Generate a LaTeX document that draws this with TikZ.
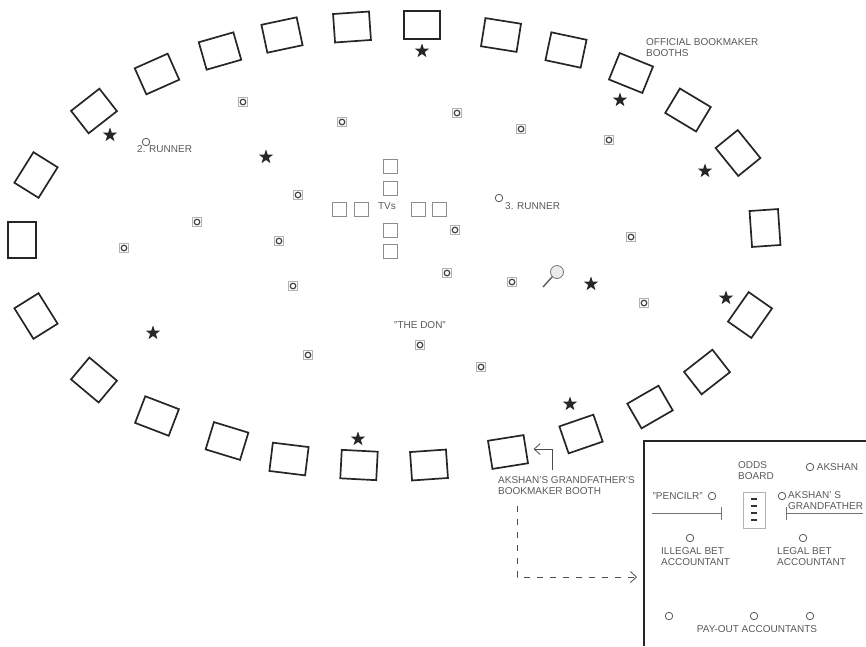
\documentclass[tikz,border=0pt]{standalone}
\usepackage{fontspec}
\setmainfont{Liberation Sans}
\usetikzlibrary{shapes.geometric, arrows.meta, positioning}

\begin{document}
\begin{tikzpicture}[
      x=1pt, y=-1pt,
      font=\fontsize{10}{11.7}\selectfont,
      booth/.style={draw=black!85, line width=1.7pt, minimum width=36pt, minimum height=28.5pt, inner sep=0pt},
      tv/.style={draw=black!45, line width=0.9pt, minimum size=14pt, inner sep=0pt},
      guest/.style={draw=black!30, line width=0.8pt, minimum size=8.5pt, inner sep=0pt,
        path picture={\draw[black!75, line width=1.2pt] (path picture bounding box.center) circle (2.8pt);}},
      pers/.style={draw=black!65, circle, line width=0.8pt, minimum size=7.5pt, inner sep=0pt},
      bstar/.style={star, star points=5, star point ratio=2.5, fill=black!85, minimum size=15pt, inner sep=0pt},
      lbl/.style={text=black!65, align=left, inner sep=0pt},
      arr/.style={-{Straight Barb[length=6pt, width=11pt]}, black!70, line width=0.8pt},
      tbar/.style={black!55, line width=0.8pt},
    ]
    \useasboundingbox (0,0) rectangle (866,646);

    \node[booth, rotate=0] (booth1) at (422,25) {};
    \node[booth, rotate=-9] (booth2) at (501,35) {};
    \node[booth, rotate=-12] (booth3) at (566,50) {};
    \node[booth, rotate=-22] (booth4) at (631,73) {};
    \node[booth, rotate=-31] (booth5) at (688,110) {};
    \node[booth, rotate=-51] (booth6) at (738,153) {};
    \node[booth, rotate=-86] (booth7) at (765,228) {};
    \node[booth, rotate=55] (booth8) at (750,315) {};
    \node[booth, rotate=38] (booth9) at (707,372) {};
    \node[booth, rotate=30] (booth10) at (650,407) {};
    \node[booth, rotate=19] (booth11) at (581,434) {};
    \node[booth, rotate=9] (booth12) at (508,452) {};
    \node[booth, rotate=4] (booth13) at (429,465) {};
    \node[booth, rotate=-3] (booth14) at (359,465) {};
    \node[booth, rotate=-7] (booth15) at (289,459) {};
    \node[booth, rotate=-17] (booth16) at (227,441) {};
    \node[booth, rotate=-21] (booth17) at (157,416) {};
    \node[booth, rotate=-40] (booth18) at (94,380) {};
    \node[booth, rotate=-58] (booth19) at (36,316) {};
    \node[booth, rotate=90] (booth20) at (22,240) {};
    \node[booth, rotate=58] (booth21) at (36,175) {};
    \node[booth, rotate=38] (booth22) at (94,111) {};
    \node[booth, rotate=24] (booth23) at (157,74) {};
    \node[booth, rotate=16] (booth24) at (220,51) {};
    \node[booth, rotate=12] (booth25) at (282,35) {};
    \node[booth, rotate=4] (booth26) at (352,27) {};

    \node[bstar] (star1) at (422,51) {};
    \node[bstar] (star2) at (620,100) {};
    \node[bstar] (star3) at (705,171) {};
    \node[bstar] (star4) at (110,135) {};
    \node[bstar] (star5) at (266,157) {};
    \node[bstar] (star6) at (591,284) {};
    \node[bstar] (star7) at (726,298) {};
    \node[bstar] (star8) at (153,333) {};
    \node[bstar] (star9) at (570,404) {};
    \node[bstar] (star10) at (358,439) {};

    \node[guest] (guest1) at (243,102) {};
    \node[guest] (guest2) at (342,122) {};
    \node[guest] (guest3) at (457,113) {};
    \node[guest] (guest4) at (521,129) {};
    \node[guest] (guest5) at (609,140) {};
    \node[guest] (guest6) at (298,195) {};
    \node[guest] (guest7) at (197,222) {};
    \node[guest] (guest8) at (124,248) {};
    \node[guest] (guest9) at (279,241) {};
    \node[guest] (guest10) at (455,230) {};
    \node[guest] (guest11) at (631,237) {};
    \node[guest] (guest12) at (293,286) {};
    \node[guest] (guest13) at (447,273) {};
    \node[guest] (guest14) at (512,282) {};
    \node[guest] (guest15) at (644,303) {};
    \node[guest] (guest16) at (420,345) {};
    \node[guest] (guest17) at (308,355) {};
    \node[guest] (guest18) at (481,367) {};

    \node[lbl, anchor=center] (tvlabel) at (387,206) {TVs};
    \node[tv] (tvN1) at (390,188) {};
    \node[tv, above=7pt of tvN1] (tvN2) {};
    \node[tv] (tvS1) at (390,230) {};
    \node[tv, below=7pt of tvS1] (tvS2) {};
    \node[tv] (tvW1) at (361,209) {};
    \node[tv, left=7pt of tvW1] (tvW2) {};
    \node[tv] (tvE1) at (418,209) {};
    \node[tv, right=7pt of tvE1] (tvE2) {};

    \node[pers] (runner2) at (146,142) {};
    \node[lbl, anchor=west] (runner2txt) at (137,149) {2. RUNNER};
    \node[pers] (runner3) at (499,198) {};
    \node[lbl, anchor=west] (runner3txt) at (505,206) {3. RUNNER};
    \node[lbl, anchor=center] (don) at (420,325) {"THE DON"};
    \node[lbl, anchor=north west] (official) at (646,38) {OFFICIAL BOOKMAKER\\BOOTHS};

    \node[draw=black!55, circle, fill=black!8, line width=0.8pt, minimum size=13pt, inner sep=0pt] (lens) at (557,272) {};
    \coordinate (lensend) at (543,287);
    \draw[black!60, line width=1.5pt] (lens.225) -- (lensend);

    \node[lbl, anchor=north west] (boothtxt) at (498,476) {AKSHAN'S GRANDFATHER'S\\BOOKMAKER BOOTH};
    \coordinate (arrstart) at (552,470);
    \draw[arr, shorten >=7pt] (arrstart) |- (booth12.east);

    \coordinate (insetTR) at (866,441);
    \coordinate (insetTL) at (644,441);
    \coordinate (insetBL) at (644,646);
    \draw[black!85, line width=1.5pt] (insetTR) -- (insetTL) -- (insetBL);

    \coordinate (dashstart) at (517,506);
    \coordinate (dashend) at (637,577);
    \draw[arr, dash pattern=on 6pt off 7pt] (dashstart) |- (dashend);

    \node[lbl, anchor=north west] (odds) at (738,461) {ODDS\\BOARD};
    \node[draw=black!30, line width=0.9pt, minimum width=22pt, minimum height=36pt, inner sep=0pt] (board) at (754,510) {};
    \draw[black!80, line width=1.2pt] ([xshift=-3pt, yshift=11pt]board.center) -- ([xshift=3pt, yshift=11pt]board.center);
    \draw[black!80, line width=1.2pt] ([xshift=-3pt, yshift=4pt]board.center) -- ([xshift=3pt, yshift=4pt]board.center);
    \draw[black!80, line width=1.2pt] ([xshift=-3pt, yshift=-3pt]board.center) -- ([xshift=3pt, yshift=-3pt]board.center);
    \draw[black!80, line width=1.2pt] ([xshift=-3pt, yshift=-10pt]board.center) -- ([xshift=3pt, yshift=-10pt]board.center);

    \node[pers] (akshan) at (810,467) {};
    \node[lbl, right=2.5pt of akshan] (akshantxt) {AKSHAN};
    \node[pers] (grandpa) at (782,496) {};
    \node[lbl, anchor=north west] (grandpatxt) at (788,491) {AKSHAN' S\\GRANDFATHER};
    \node[pers] (pencilr) at (712,496) {};
    \node[lbl, left=5pt of pencilr] (pencilrtxt) {"PENCILR"};

    \coordinate (pencilstart) at (652,513);
    \coordinate (pencilend) at (722,513);
    \draw[tbar, -{Bar[width=13pt]}] (pencilstart) -- (pencilend);
    \coordinate (grandstart) at (863,513);
    \coordinate (grandend) at (786,513);
    \draw[tbar, -{Bar[width=13pt]}] (grandstart) -- (grandend);

    \node[pers] (illegal) at (690,538) {};
    \node[lbl, anchor=north west] (illegaltxt) at (661,547) {ILLEGAL BET\\ACCOUNTANT};
    \node[pers] (legal) at (803,538) {};
    \node[lbl, anchor=north west] (legaltxt) at (777,547) {LEGAL BET\\ACCOUNTANT};

    \node[pers] (payout1) at (669,616) {};
    \node[pers] (payout2) at (754,616) {};
    \node[pers] (payout3) at (810,616) {};
    \node[lbl, anchor=center] (payouttxt) at (757,629) {PAY-OUT ACCOUNTANTS};
  \end{tikzpicture}
\end{document}
